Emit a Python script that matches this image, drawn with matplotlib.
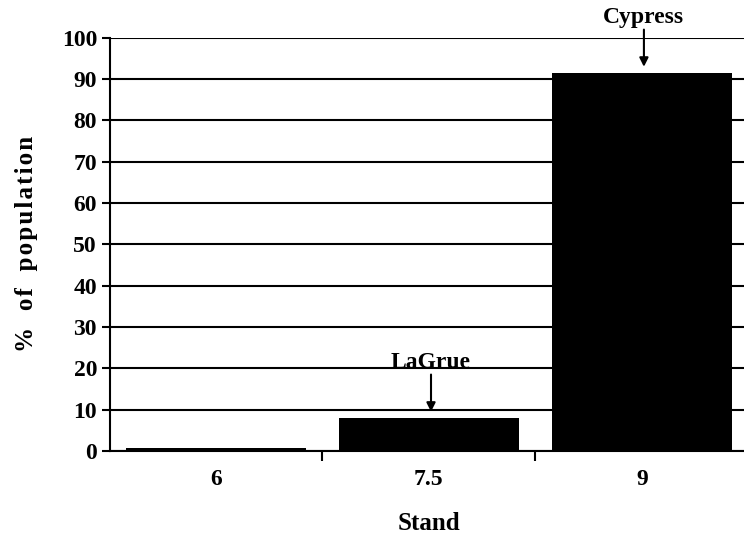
import matplotlib.pyplot as plt
from matplotlib.ticker import FixedLocator, NullFormatter

plt.rcParams['font.family'] = ['Liberation Serif', 'DejaVu Serif']
plt.rcParams['font.weight'] = 'bold'

# data
stands = ['6', '7.5', '9']
percent = [0.8, 8.0, 91.5]
notes = {1: 'LaGrue', 2: 'Cypress'}

fig = plt.figure(figsize=(7.44, 5.41), dpi=100)
ax = fig.add_axes([0.1472, 0.1664, 0.8585, 0.7636])

x = list(range(len(stands)))
ax.bar(x, percent, width=0.845, color='black', zorder=3)

ax.set_xlim(-0.5, 2.5)
ax.set_ylim(0, 100)
ax.set_yticks(range(0, 101, 10))
ax.set_xticks(x)
ax.set_xticklabels(stands)
ax.xaxis.set_minor_locator(FixedLocator([0.5, 1.5]))
ax.xaxis.set_minor_formatter(NullFormatter())
ax.tick_params(axis='x', which='major', length=0, pad=13, labelsize=17)
ax.tick_params(axis='x', which='minor', length=7, width=1.5, direction='out')
ax.tick_params(axis='y', length=6, width=1.5, labelsize=17, pad=3)

ax.yaxis.grid(True, color='black', linewidth=1.5, zorder=0)
ax.spines['top'].set_visible(False)
ax.spines['right'].set_visible(False)
ax.spines['left'].set_linewidth(1.5)
ax.spines['bottom'].set_linewidth(1.5)

# arrows with labels
for i, name in notes.items():
    tip = percent[i] + 1.5
    ax.annotate('', xy=(i + 0.01, tip), xytext=(i + 0.01, tip + 9.0),
                arrowprops=dict(arrowstyle='-|>', color='black', lw=1.5,
                                mutation_scale=13, shrinkA=0, shrinkB=0),
                annotation_clip=False)
    ax.text(i + 0.01, tip + 10.6, name, ha='center', va='baseline',
            fontsize=17, fontweight='bold', clip_on=False)

hs = '\u200a'
gap = hs + '  ' + hs
ylab = hs.join('%') + gap + hs.join('of') + gap + hs.join('population')
ax.set_xlabel('Stand', fontsize=18, fontweight='bold', labelpad=16)
ax.set_ylabel(ylab, fontsize=18, fontweight='bold', labelpad=17)

plt.savefig('out.png', dpi=100)
